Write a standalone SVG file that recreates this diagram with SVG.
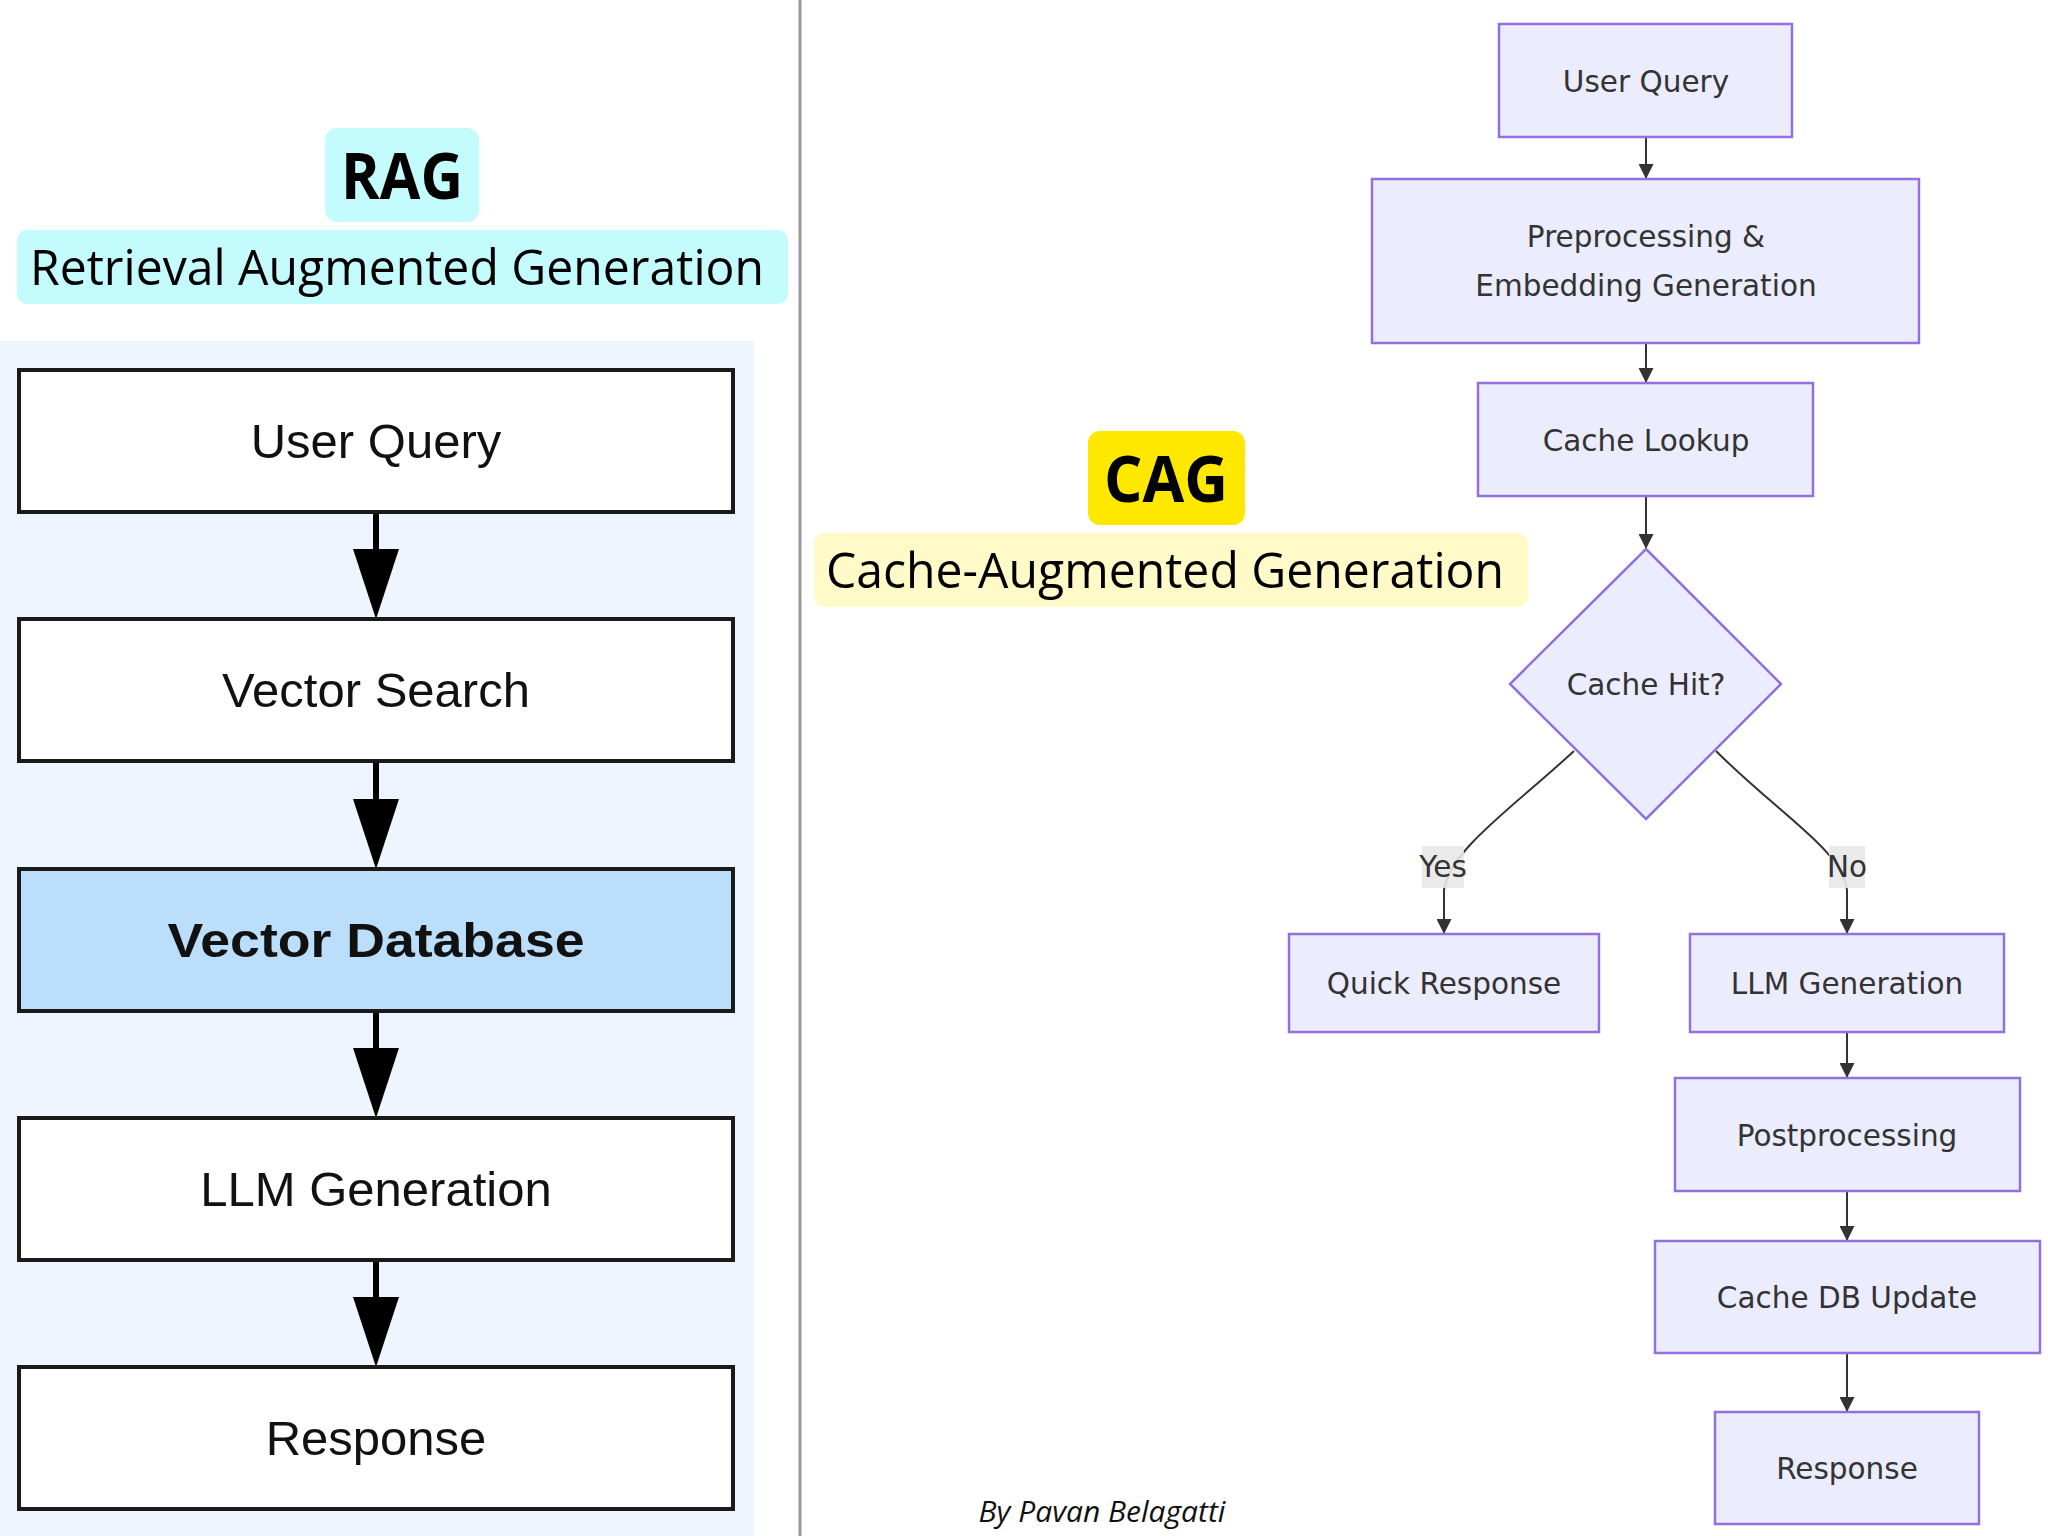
<svg xmlns="http://www.w3.org/2000/svg" width="2048" height="1536" viewBox="0 0 2048 1536">
<defs>
<style>
.rbox{fill:#ffffff;stroke:#1a1a1a;stroke-width:4}
.rtxt{font-family:"Liberation Sans",Arial,sans-serif;font-size:49px;fill:#111;text-anchor:middle}
.rline{stroke:#000;stroke-width:6;fill:none}
.rhead{fill:#000}
.cbox{fill:#ECECFF;stroke:#9370DB;stroke-width:2.5}
.ctxt{font-family:"DejaVu Sans","Liberation Sans",sans-serif;font-size:29.5px;fill:#333;text-anchor:middle}
.cedge{stroke:#333;stroke-width:2;fill:none}
.lbl{fill:#e8e8e8;opacity:0.9}
.title{font-family:"Open Sans","Noto Sans",sans-serif;fill:#000;text-anchor:middle}
</style>
<marker id="pt" viewBox="0 0 10 10" refX="10" refY="5" markerUnits="userSpaceOnUse" markerWidth="15" markerHeight="15" orient="auto">
<path d="M0,0 L10,5 L0,10 z" fill="#333"/>
</marker>
</defs>
<rect width="2048" height="1536" fill="#ffffff"/>
<line x1="800" y1="0" x2="800" y2="1536" stroke="#9a9a9a" stroke-width="3"/>

<g id="rag-title">
<rect x="325" y="128" width="154" height="94" rx="12" fill="#C4FBFD"/>
<text class="title" x="402" y="199" font-size="64" font-weight="bold" textLength="122" lengthAdjust="spacingAndGlyphs">RAG</text>
<rect x="17" y="230" width="771" height="74" rx="10" fill="#C4FBFD"/>
<text class="title" x="397" y="285" font-size="50" textLength="734" lengthAdjust="spacingAndGlyphs">Retrieval Augmented Generation</text>
</g>

<rect x="0" y="341" width="754" height="1195" fill="#EEF5FE"/>

<g id="rag-edges">
<line class="rline" x1="376" y1="512" x2="376" y2="555"/>
<path class="rhead" d="M353,549 L399,549 L376,619 z"/>
<line class="rline" x1="376" y1="761" x2="376" y2="805"/>
<path class="rhead" d="M353,799 L399,799 L376,869 z"/>
<line class="rline" x1="376" y1="1011" x2="376" y2="1054"/>
<path class="rhead" d="M353,1048 L399,1048 L376,1118 z"/>
<line class="rline" x1="376" y1="1260" x2="376" y2="1303"/>
<path class="rhead" d="M353,1297 L399,1297 L376,1367 z"/>
</g>

<g id="rag-user-query">
<rect class="rbox" x="19" y="370" width="714" height="142"/>
<text class="rtxt" x="376" y="458">User Query</text>
</g>
<g id="rag-vector-search">
<rect class="rbox" x="19" y="619" width="714" height="142"/>
<text class="rtxt" x="376" y="707">Vector Search</text>
</g>
<g id="rag-vector-database">
<rect class="rbox" x="19" y="869" width="714" height="142" style="fill:#BBDEFB"/>
<text class="rtxt" x="376" y="957" font-weight="bold" textLength="417" lengthAdjust="spacingAndGlyphs">Vector Database</text>
</g>
<g id="rag-llm-generation">
<rect class="rbox" x="19" y="1118" width="714" height="142"/>
<text class="rtxt" x="376" y="1206">LLM Generation</text>
</g>
<g id="rag-response">
<rect class="rbox" x="19" y="1367" width="714" height="142"/>
<text class="rtxt" x="376" y="1455">Response</text>
</g>

<g id="cag-title">
<rect x="1088" y="431" width="157" height="94" rx="12" fill="#FFE800"/>
<text class="title" x="1166" y="502" font-size="64" font-weight="bold" textLength="124" lengthAdjust="spacingAndGlyphs">CAG</text>
<rect x="814" y="533" width="714" height="74" rx="10" fill="#FFFAC8"/>
<text class="title" x="1165" y="588" font-size="50" textLength="678" lengthAdjust="spacingAndGlyphs">Cache-Augmented Generation</text>
</g>

<g id="cag-edges">
<line class="cedge" x1="1646" y1="137" x2="1646" y2="179" marker-end="url(#pt)"/>
<line class="cedge" x1="1646" y1="343" x2="1646" y2="383" marker-end="url(#pt)"/>
<line class="cedge" x1="1646" y1="496" x2="1646" y2="549" marker-end="url(#pt)"/>
<path class="cedge" d="M1574,751 C1510,810 1450,850 1444,890 L1444,934" marker-end="url(#pt)"/>
<path class="cedge" d="M1716,751 C1780,815 1842,850 1847,890 L1847,934" marker-end="url(#pt)"/>
<line class="cedge" x1="1847" y1="1032" x2="1847" y2="1078" marker-end="url(#pt)"/>
<line class="cedge" x1="1847" y1="1191" x2="1847" y2="1241" marker-end="url(#pt)"/>
<line class="cedge" x1="1847" y1="1353" x2="1847" y2="1412" marker-end="url(#pt)"/>
<g id="label-yes">
<rect class="lbl" x="1422" y="846" width="42" height="42"/>
<text class="ctxt" x="1443" y="877" font-size="26">Yes</text>
</g>
<g id="label-no">
<rect class="lbl" x="1829" y="846" width="36" height="42"/>
<text class="ctxt" x="1847" y="877" font-size="26">No</text>
</g>
</g>

<g id="cag-user-query">
<rect class="cbox" x="1499" y="24" width="293" height="113"/>
<text class="ctxt" x="1646" y="92">User Query</text>
</g>
<g id="cag-preprocessing">
<rect class="cbox" x="1372" y="179" width="547" height="164"/>
<text class="ctxt" x="1646" y="247">Preprocessing &amp;</text>
<text class="ctxt" x="1646" y="296">Embedding Generation</text>
</g>
<g id="cag-cache-lookup">
<rect class="cbox" x="1478" y="383" width="335" height="113"/>
<text class="ctxt" x="1646" y="451">Cache Lookup</text>
</g>
<g id="cag-cache-hit">
<path class="cbox" d="M1646,549 L1781,684 L1646,819 L1510,684 z"/>
<text class="ctxt" x="1646" y="695">Cache Hit?</text>
</g>
<g id="cag-quick-response">
<rect class="cbox" x="1289" y="934" width="310" height="98"/>
<text class="ctxt" x="1444" y="994">Quick Response</text>
</g>
<g id="cag-llm-generation">
<rect class="cbox" x="1690" y="934" width="314" height="98"/>
<text class="ctxt" x="1847" y="994">LLM Generation</text>
</g>
<g id="cag-postprocessing">
<rect class="cbox" x="1675" y="1078" width="345" height="113"/>
<text class="ctxt" x="1847" y="1146">Postprocessing</text>
</g>
<g id="cag-cache-db-update">
<rect class="cbox" x="1655" y="1241" width="385" height="112"/>
<text class="ctxt" x="1847" y="1308">Cache DB Update</text>
</g>
<g id="cag-response">
<rect class="cbox" x="1715" y="1412" width="264" height="112"/>
<text class="ctxt" x="1847" y="1479">Response</text>
</g>

<text x="1102" y="1522" font-family="'Open Sans','Noto Sans',sans-serif" font-style="italic" font-size="30" fill="#111" text-anchor="middle">By Pavan Belagatti</text>
</svg>
